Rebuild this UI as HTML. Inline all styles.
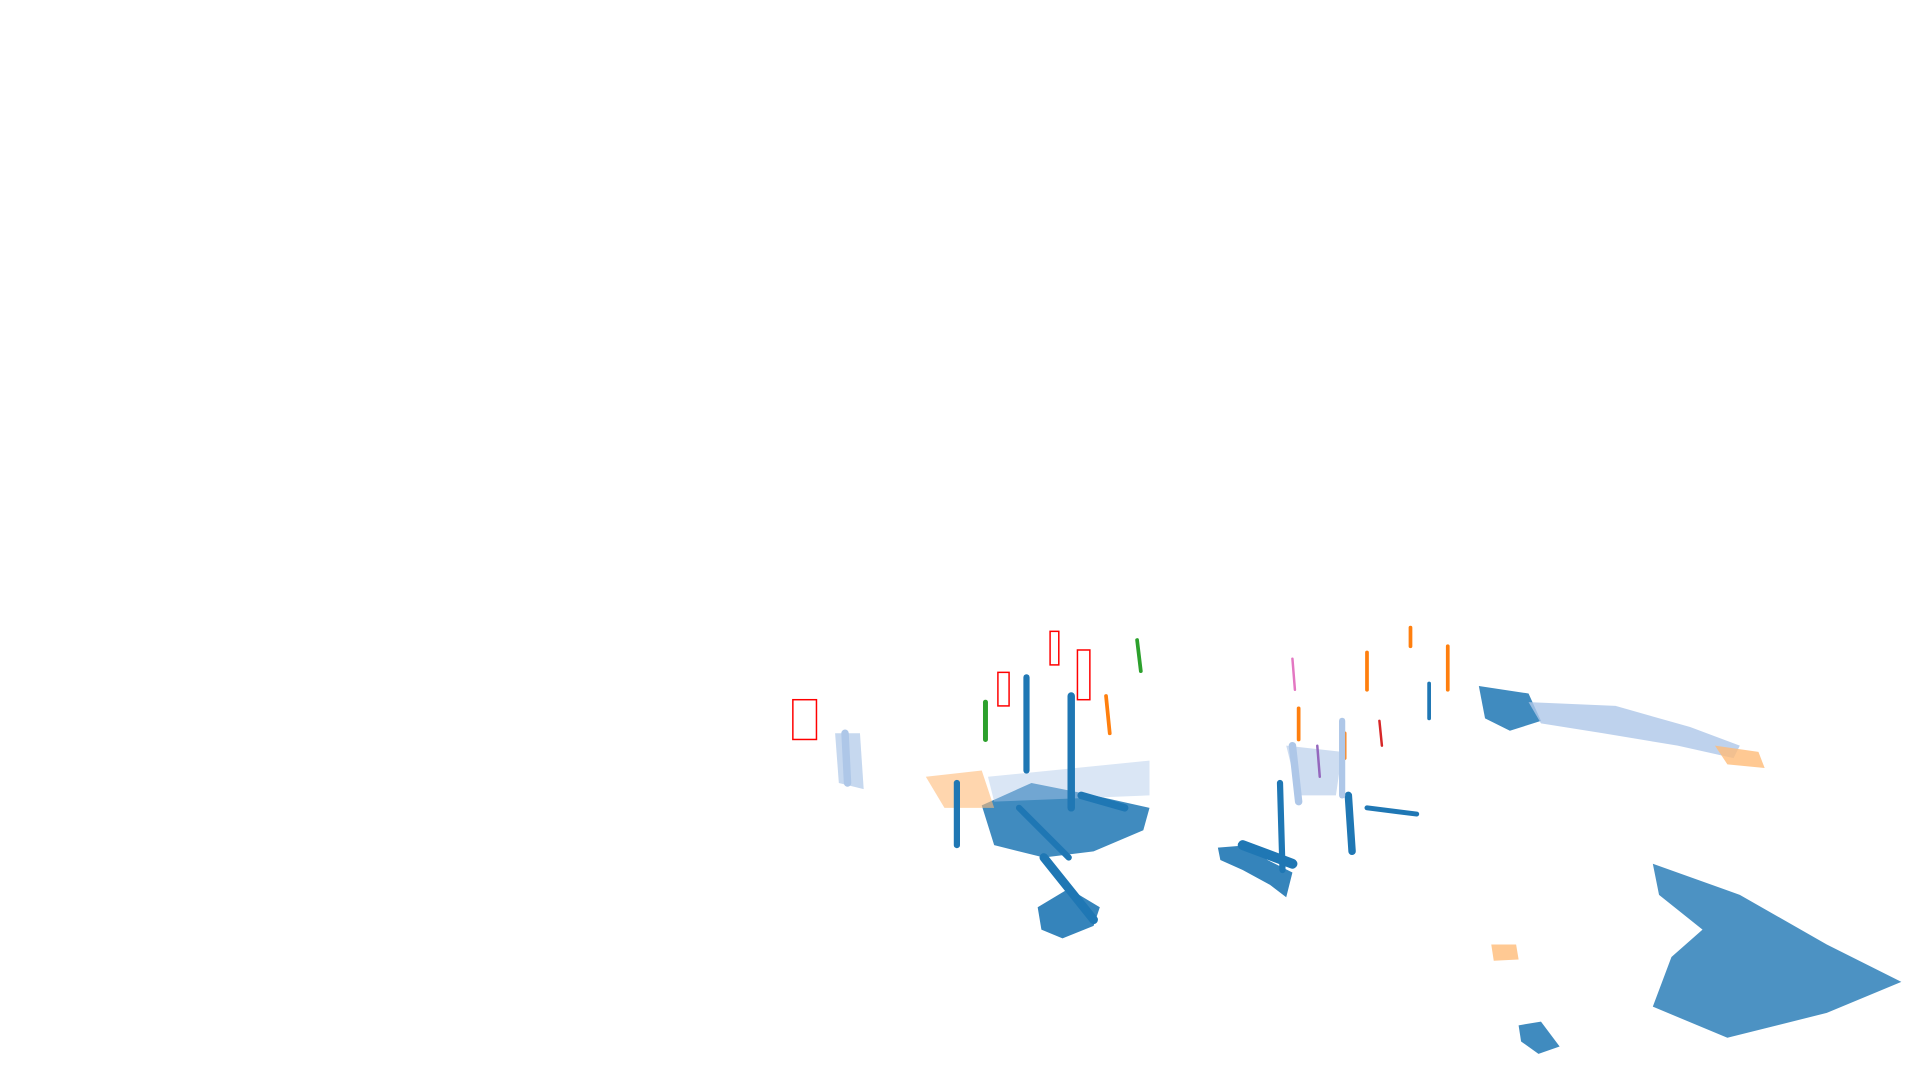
<!DOCTYPE html>
<html><head><meta charset="utf-8"><style>
html,body{margin:0;padding:0;background:#fff;width:1920px;height:1080px;overflow:hidden}
svg{display:block}
</style></head><body>
<svg id="plot" width="1920" height="1080" viewBox="0 0 1545 869" preserveAspectRatio="none" xmlns="http://www.w3.org/2000/svg"></svg>
<script>
const colors = ["#1f77b4","#aec7e8","#ff7f0e","#ffbb78","#2ca02c","#d62728","#9467bd","#e377c2"];
// segments: x1,y1,x2,y2,width,colorIndex
const segX1 = [826,862,770,840,1030,1085,1100,1150,1100,1165,1045,1082,1135,793,680,1040,1080,1000,820,870,890,915,1060,1110,1040];
const segY1 = [545,560,630,690,630,640,650,550,525,520,570,590,505,565,590,600,580,680,650,640,560,515,600,580,530];
const segX2 = [826,862,770,880,1032,1088,1140,1150,1100,1165,1045,1082,1135,793,682,1045,1080,1040,860,905,893,918,1062,1112,1042];
const segY2 = [620,650,680,740,700,685,655,578,555,555,595,610,520,595,630,645,640,695,690,650,590,540,625,600,555];
const segW  = [5,6,5,7,5,6,4,3,3,3,3,3,3,4,6,6,5,8,5,6,3,3,2,2,2];
const segC  = [0,0,0,0,0,0,0,0,2,2,2,2,2,4,1,1,1,0,0,0,2,4,6,5,7];
// blobs: polygon points strings, colorIndex, opacity
const blobPts = [
 "790,648 830,630 880,640 925,650 920,668 880,685 840,690 800,680",
 "835,730 860,715 885,730 880,745 855,755 838,748",
 "980,682 1005,680 1020,692 1040,702 1035,722 1022,712 1000,700 982,692",
 "1330,695 1400,720 1470,760 1530,790 1470,815 1390,835 1330,810 1345,770 1370,748 1335,720",
 "1190,552 1230,558 1240,580 1215,588 1195,578",
 "1230,565 1300,568 1360,585 1400,600 1395,610 1350,600 1290,590 1240,582",
 "1222,825 1240,822 1255,842 1238,848 1224,838",
 "1380,600 1415,605 1420,618 1390,615",
 "1200,760 1220,760 1222,772 1202,773",
 "745,625 790,620 800,650 760,650",
 "795,625 925,612 925,640 800,645",
 "672,590 692,590 695,635 675,630",
 "1035,600 1080,605 1075,640 1045,640"
];
const blobC = [0,0,0,0,0,1,0,3,3,3,1,1,1];
const blobO = [0.85,0.9,0.9,0.8,0.85,0.8,0.85,0.8,0.8,0.6,0.45,0.7,0.6];
// red bounding boxes: x,y,w,h
const boxX = [638,803,845,867];
const boxY = [563,541,508,523];
const boxW = [19,9,7,10];
const boxH = [32,27,27,40];

const svg = document.getElementById('plot');
const NS = "http://www.w3.org/2000/svg";
for (let i=0;i<blobPts.length;i++){
  const p=document.createElementNS(NS,'polygon');
  p.setAttribute('points',blobPts[i]);
  p.setAttribute('fill',colors[blobC[i]]);
  p.setAttribute('opacity',blobO[i]);
  
  
  svg.appendChild(p);
}
for (let i=0;i<segX1.length;i++){
  const l=document.createElementNS(NS,'line');
  l.setAttribute('x1',segX1[i]);l.setAttribute('y1',segY1[i]);
  l.setAttribute('x2',segX2[i]);l.setAttribute('y2',segY2[i]);
  l.setAttribute('stroke',colors[segC[i]]);
  l.setAttribute('stroke-width',segW[i]);
  l.setAttribute('stroke-linecap','round');
  
  
  svg.appendChild(l);
}
for (let i=0;i<boxX.length;i++){
  const r=document.createElementNS(NS,'rect');
  r.setAttribute('x',boxX[i]);r.setAttribute('y',boxY[i]);
  r.setAttribute('width',boxW[i]);r.setAttribute('height',boxH[i]);
  r.setAttribute('fill','none');r.setAttribute('stroke','#ff0000');r.setAttribute('stroke-width','1.2');
  
  
  svg.appendChild(r);
}
</script>
</body></html>
